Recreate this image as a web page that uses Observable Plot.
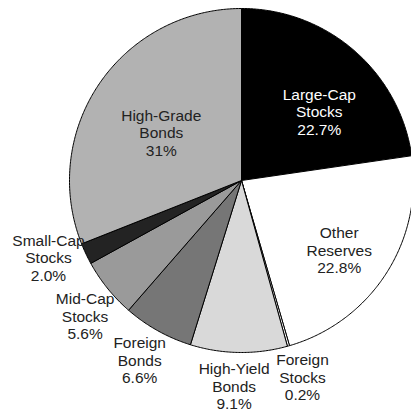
<!DOCTYPE html>
<html>
<head>
<meta charset="utf-8">
<script src="https://cdn.jsdelivr.net/npm/d3@7"></script>
<script src="https://cdn.jsdelivr.net/npm/@observablehq/plot@0.6"></script>
<style>
  html, body { margin: 0; padding: 0; background: #fff; }
  #chart svg { display: block; }
</style>
</head>
<body>
<div id="chart"></div>
<script>
// ---- data ----
const names = ["Large-Cap\nStocks", "Other\nReserves", "Foreign\nStocks", "High-Yield\nBonds", "Foreign\nBonds", "Mid-Cap\nStocks", "Small-Cap\nStocks", "High-Grade\nBonds"];
const values = [22.7, 22.8, 0.2, 9.1, 6.6, 5.6, 2.0, 31];
const valueLabels = ["22.7%", "22.8%", "0.2%", "9.1%", "6.6%", "5.6%", "2.0%", "31%"];
// ---- styles ----
const sliceColors = ["#000000", "#ffffff", "#ffffff", "#d9d9d9", "#767676", "#9a9a9a", "#232323", "#b2b2b2"];
const textColors = ["#ffffff", "#222222", "#222222", "#222222", "#222222", "#222222", "#222222", "#222222"];

// ---- layout ----
const W = 411, H = 412, CX = 241, CY = 180, R = 172;
const INSIDE_R = 0.62, OUTSIDE_R = 1.215, MIN_SEP = 19 * Math.PI / 180;

const arcs = d3.pie().sort(null).value(d => d)(values);

// polygon points for each slice (unit radius, angle clockwise from top)
const slicePts = [];
arcs.forEach((a, i) => {
  const n = Math.max(2, Math.ceil((a.endAngle - a.startAngle) / (Math.PI / 360)));
  slicePts.push({k: i, x: 0, y: 0});
  for (let j = 0; j <= n; j++) {
    const t = a.startAngle + (a.endAngle - a.startAngle) * j / n;
    slicePts.push({k: i, x: Math.sin(t), y: -Math.cos(t)});
  }
  slicePts.push({k: i, x: 0, y: 0});
});

// label angles; outside labels are spread apart so they do not collide
const labelInfo = arcs.map((a, i) => ({
  i,
  inside: values[i] >= 10,
  angle: (a.startAngle + a.endAngle) / 2
}));
const outside = labelInfo.filter(d => !d.inside).sort((a, b) => a.angle - b.angle);
for (let iter = 0; iter < 100; iter++) {
  for (let j = 1; j < outside.length; j++) {
    const diff = outside[j].angle - outside[j - 1].angle;
    if (diff < MIN_SEP) {
      const push = (MIN_SEP - diff) / 2;
      outside[j].angle += push;
      outside[j - 1].angle -= push;
    }
  }
}

const insideLabels = [], outsideLabels = [];
labelInfo.forEach(d => {
  const r = d.inside ? INSIDE_R : OUTSIDE_R;
  const lab = {
    x: r * Math.sin(d.angle),
    y: -r * Math.cos(d.angle),
    text: names[d.i] + "\n" + valueLabels[d.i],
    color: textColors[d.i]
  };
  (d.inside ? insideLabels : outsideLabels).push(lab);
});

const textStyle = {
  x: "x", y: "y", text: "text",
  fill: "color",
  fontSize: 15.5,
  lineHeight: 1.13,
  fontFamily: "'Liberation Sans', Arial, Helvetica, sans-serif",
  textAnchor: "middle"
};

const chart = Plot.plot({
  width: W,
  height: H,
  margin: 0,
  x: {domain: [-CX / R, (W - CX) / R], range: [0, W], axis: null},
  y: {domain: [-CY / R, (H - CY) / R], range: [0, H], axis: null},
  color: {type: "identity"},
  marks: [
    Plot.line(slicePts, {
      x: "x", y: "y", z: "k",
      fill: d => sliceColors[d.k],
      stroke: "#000",
      strokeWidth: 1,
      strokeLinejoin: "round",
      curve: "linear"
    }),
    Plot.text(insideLabels, {...textStyle, dx: 8, dy: 12}),
    Plot.text(outsideLabels, {...textStyle, dy: -3})
  ]
});
document.getElementById("chart").appendChild(chart);
</script>
</body>
</html>
